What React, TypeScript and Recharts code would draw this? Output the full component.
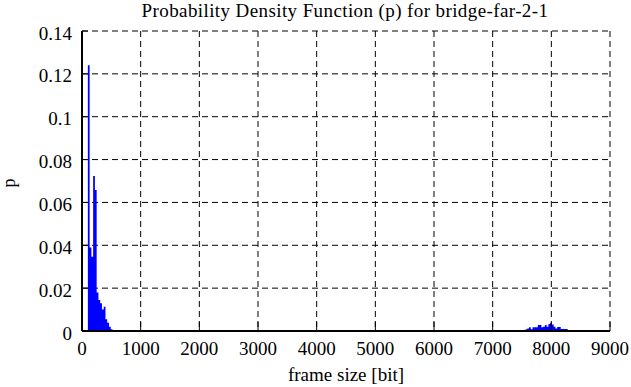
import { AreaChart, Area, XAxis, YAxis, CartesianGrid } from "recharts";

const BIN_WIDTH = 30;

// first cluster of frame sizes (bin start, probability)
const lowBinStarts = [100, 130, 160, 190, 220, 250, 280, 310, 340, 370, 400, 430, 460, 490, 520, 550, 580];
const lowP = [0.124, 0.039, 0.0347, 0.0723, 0.0658, 0.018, 0.0145, 0.0129, 0.01, 0.0113, 0.0055, 0.0039, 0.002, 0.0008, 0, 0, 0.0005];

// second cluster around 8000 bit
const highBinStarts = [
  7560, 7590, 7620, 7650, 7680, 7710, 7740, 7770, 7800, 7830, 7860, 7890,
  7920, 7950, 7980, 8010, 8040, 8070, 8100, 8130, 8160, 8190, 8220, 8250,
];
const highP = [
  0.0008, 0.0012, 0.0017, 0.0008, 0.0017, 0.0017, 0.0017, 0.0028, 0.0028, 0.0017, 0.002, 0.0028,
  0.002, 0.0033, 0.0037, 0.003, 0.002, 0.0012, 0.0019, 0.0019, 0.0009, 0.0009, 0.0009, 0.0009,
];

const xTicks = [0, 1000, 2000, 3000, 4000, 5000, 6000, 7000, 8000, 9000];
const yTicks = [0, 0.02, 0.04, 0.06, 0.08, 0.1, 0.12, 0.14];

function cluster(starts: number[], p: number[]) {
  const pts = starts.map((s, i) => ({ x: s, p: p[i] }));
  // close the last bin
  pts.push({ x: starts[starts.length - 1] + BIN_WIDTH, p: 0 });
  return pts;
}

const data = [...cluster(lowBinStarts, lowP), ...cluster(highBinStarts, highP)];

const FONT = "'Liberation Serif', 'Times New Roman', serif";
const axisLine = { stroke: "#000", strokeWidth: 2 };
const tickLine = { stroke: "#000", strokeWidth: 1 };

function XTick(props: any) {
  const { x, y, payload } = props;
  return (
    <text x={x} y={y} dy="0.71em" textAnchor="middle" fill="#000" fontSize={19} fontFamily={FONT}>
      {payload.value}
    </text>
  );
}

function YTick(props: any) {
  const { x, y, payload } = props;
  return (
    <text x={x} y={y} dy="0.45em" textAnchor="end" fill="#000" fontSize={19} fontFamily={FONT}>
      {payload.value}
    </text>
  );
}

export default function App() {
  return (
    <div
      style={{
        position: "absolute",
        left: 0,
        top: 0,
        width: 631,
        height: 387,
        background: "#fff",
        fontFamily: FONT,
      }}
    >
      <AreaChart
        width={631}
        height={387}
        data={data}
        margin={{ top: 31, right: 21, bottom: 0, left: 0 }}
      >
        <CartesianGrid stroke="#000" strokeWidth={1} strokeDasharray="6 4" />
        <XAxis
          dataKey="x"
          type="number"
          domain={[0, 9000]}
          ticks={xTicks}
          height={56}
          axisLine={axisLine}
          tickLine={tickLine}
          tickSize={-9}
          tickMargin={20}
          tick={<XTick />}
        />
        <XAxis
          xAxisId="top"
          orientation="top"
          dataKey="x"
          type="number"
          domain={[0, 9000]}
          ticks={xTicks}
          height={0}
          axisLine={axisLine}
          tickLine={tickLine}
          tickSize={-9}
          tick={false}
        />
        <YAxis
          type="number"
          domain={[0, 0.14]}
          ticks={yTicks}
          width={82}
          axisLine={axisLine}
          tickLine={tickLine}
          tickSize={-6}
          tickMargin={16}
          tick={<YTick />}
        />
        <YAxis
          yAxisId="right"
          orientation="right"
          type="number"
          domain={[0, 0.14]}
          ticks={yTicks}
          width={0}
          axisLine={axisLine}
          tickLine={tickLine}
          tickSize={-6}
          tick={false}
        />
        <Area
          type="stepAfter"
          dataKey="p"
          stroke="none"
          fill="#0000ff"
          fillOpacity={1}
          isAnimationActive={false}
        />
      </AreaChart>
      <svg
        width={631}
        height={387}
        style={{ position: "absolute", left: 0, top: 0, pointerEvents: "none" }}
        fontFamily={FONT}
        fontSize={18}
      >
        <text x={345} y={17} textAnchor="middle" fill="#000" fontSize={19} letterSpacing={0.4}>
          Probability Density Function (p) for bridge-far-2-1
        </text>
        <text x={346} y={381} textAnchor="middle" fill="#000" fontSize={19}>
          frame size [bit]
        </text>
        <text x={15} y={183} textAnchor="middle" fill="#000" transform="rotate(-90 15 183)">
          p
        </text>
      </svg>
    </div>
  );
}
